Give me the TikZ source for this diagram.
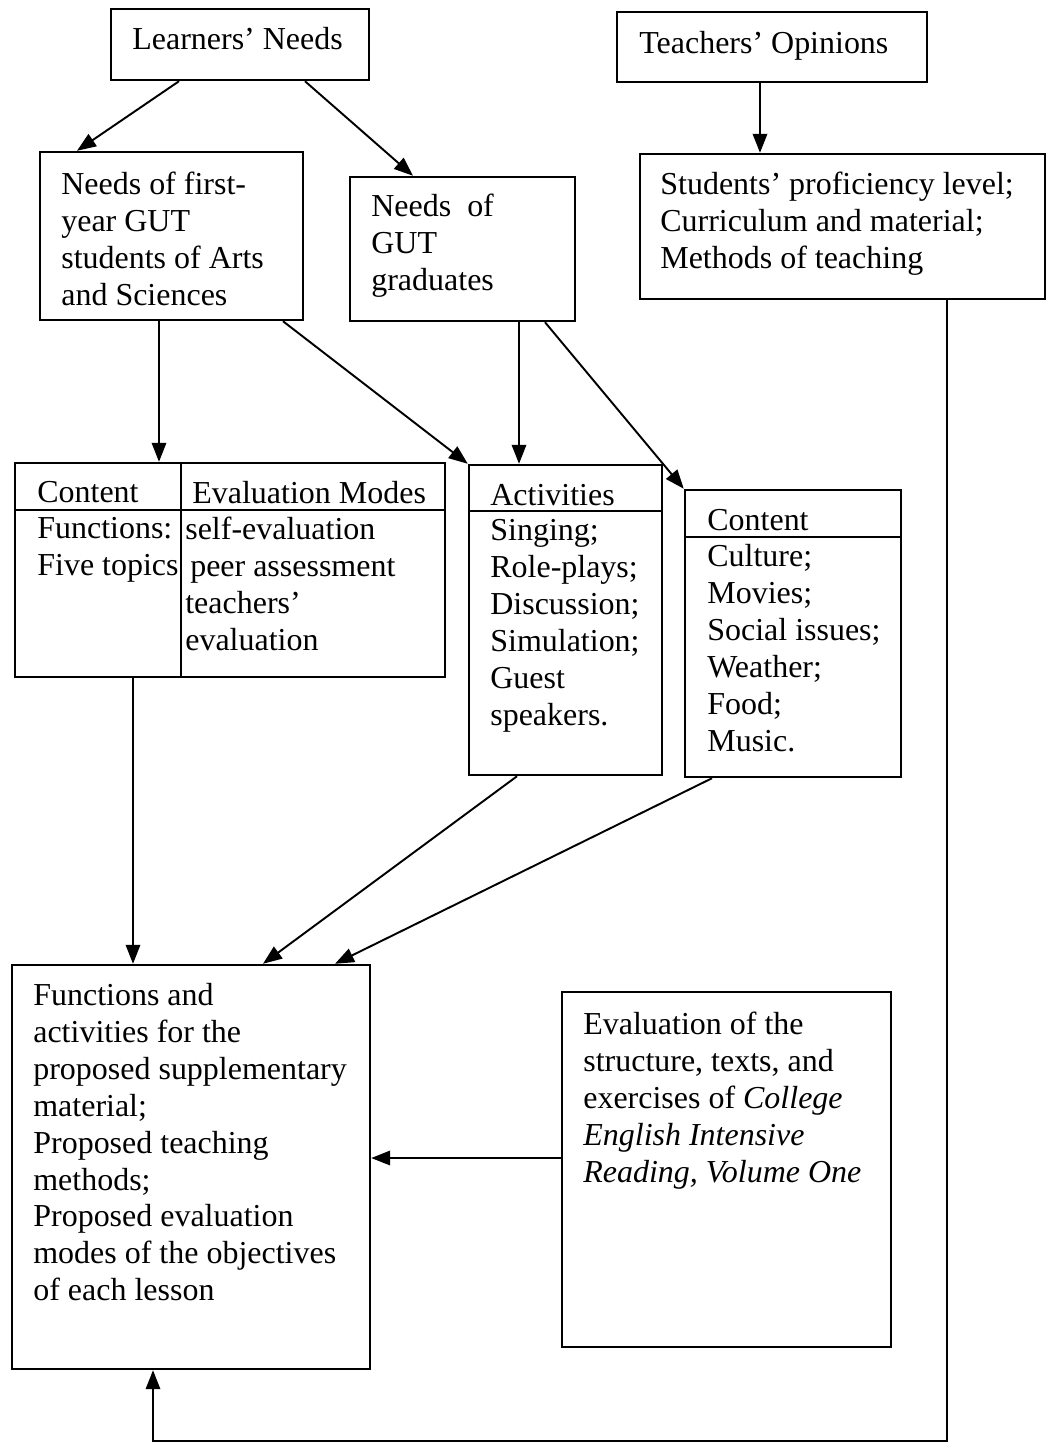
\documentclass[tikz,border=0pt]{standalone}
\usepackage{fontspec}
\setmainfont{Liberation Serif}
\usetikzlibrary{arrows.meta,positioning,calc,fit}

\begin{document}
\begin{tikzpicture} [> = {Triangle[length=3.8mm, width=2.9mm]}, x = 0.02cm, y = -0.02cm, font = \fontsize{18.2}{21}\selectfont]
            % Estilos
            \tikzstyle{caixa}=[draw, line width=1.4pt, inner sep=0pt]
            \tikzstyle{linha}=[line width=1.4pt]
            \tikzstyle{texto}=[anchor=north west, align=left, inner sep=0pt]
            \tikzstyle{seta}=[->, line width=1.1pt]

            \useasboundingbox (0,0) rectangle (1049,1450);

            % Caixas
            \node[caixa, fit={(111,9) (369,80)}] (ln) {};
            \node[caixa, fit={(617,12) (927,82)}] (to) {};
            \node[caixa, fit={(40,152) (303,320)}] (nf) {};
            \node[caixa, fit={(350,177) (575,321)}] (ng) {};
            \node[caixa, fit={(640,154) (1045,299)}] (sp) {};
            \node[caixa, fit={(15,463) (445,677)}] (tb) {};
            \node[caixa, fit={(469,465) (662,775)}] (ac) {};
            \node[caixa, fit={(685,490) (901,777)}] (ct) {};
            \node[caixa, fit={(12,965) (370,1369)}] (fn) {};
            \node[caixa, fit={(562,992) (891,1347)}] (ev) {};

            % Divisoes das tabelas
            \draw[linha] (tb.west |- 0,510) -- (tb.east |- 0,510);
            \draw[linha] (tb.north -| 181,0) -- (tb.south -| 181,0);
            \draw[linha] (ac.west |- 0,511) -- (ac.east |- 0,511);
            \draw[linha] (ct.west |- 0,537) -- (ct.east |- 0,537);

            % Textos
            \node[texto] (ln-t) at (132,27) {Learners' Needs};
            \node[texto] (to-t) at (639,31) {Teachers' Opinions};
            \node[texto] (nf-t) at (61,172) {Needs of first-\\year GUT\\students of Arts\\and Sciences};
            \node[texto] (ng-t) at (371,194) {Needs\ \ of\\GUT\\graduates};
            \node[texto] (sp-t) at (660,172) {Students' proficiency level;\\Curriculum and material;\\Methods of teaching};
            \node[texto] (tb-h1) at (37,481) {Content};
            \node[texto] (tb-h2) at (192,481) {Evaluation Modes};
            \node[texto] (tb-c1) at (37,517) {Functions:\\Five topics};
            \node[texto] (tb-c2) at (185,517) {self-evaluation\\\hspace*{7\pgflinewidth}peer assessment\\teachers'\\evaluation};
            \node[texto] (ac-h) at (490,484) {Activities};
            \node[texto] (ac-t) at (490,519) {Singing;\\Role-plays;\\Discussion;\\Simulation;\\Guest\\speakers.};
            \node[texto] (ct-h) at (707,509) {Content};
            \node[texto] (ct-t) at (707,544) {Culture;\\Movies;\\Social issues;\\Weather;\\Food;\\Music.};
            \node[texto] (fn-t) at (33,983) {Functions and\\activities for the\\proposed supplementary\\material;\\Proposed teaching\\methods;\\Proposed evaluation\\modes of the objectives\\of each lesson};
            \node[texto] (ev-t) at (583,1012) {Evaluation of the\\structure, texts, and\\exercises of \textit{College}\\\textit{English Intensive}\\\textit{Reading, Volume One}};

            % Setas
            \draw[seta] (ln.south -| 179,0) -- (nf.north -| 77,0);
            \draw[seta] (ln.south -| 305,0) -- (ng.north -| 413,0);
            \draw[seta] (to.south -| 760,0) -- (sp.north -| 760,0);
            \draw[seta] (nf.south -| 159,0) -- (tb.north -| 159,0);
            \draw[seta] (nf.south -| 283,0) -- (ac.north west);
            \draw[seta] (ng.south -| 519,0) -- (ac.north -| 519,0);
            \draw[seta] (ng.south -| 545,0) -- (ct.north west);
            \draw[seta] (tb.south -| 133,0) -- (fn.north -| 133,0);
            \draw[seta] (ac.south -| 517,0) -- (fn.north -| 263,0);
            \draw[seta] (ct.south -| 712,0) -- (fn.north -| 335,0);
            \draw[seta] (ev.west |- 0,1158) -- (fn.east |- 0,1158);
            \coordinate (volta) at (947,1441);
            \draw[seta] (sp.south -| volta) -- (volta) -| (fn.south -| 153,0);
        \end{tikzpicture}
\end{document}
